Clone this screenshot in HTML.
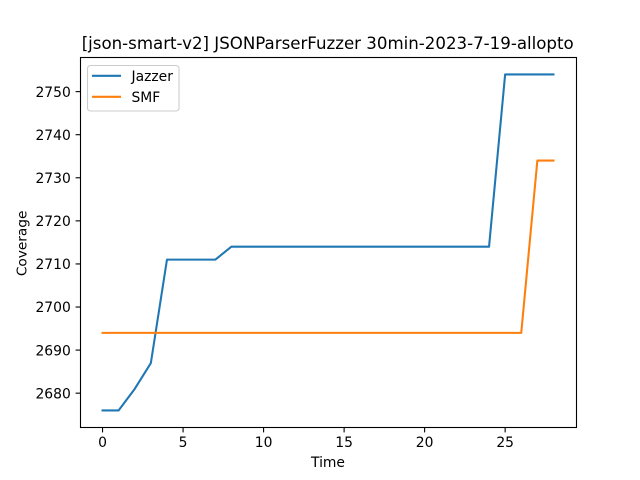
<!DOCTYPE html>
<html>
<head>
<meta charset="utf-8">
<style>
html,body{margin:0;padding:0;background:#fff;width:640px;height:480px;overflow:hidden}
svg{display:block}
text{font-family:"DejaVu Sans","Liberation Sans",sans-serif;fill:#000}
</style>
</head>
<body>
<svg id="chart" xmlns="http://www.w3.org/2000/svg" width="640" height="480" viewBox="0 0 640 480">
  <rect x="0" y="0" width="640" height="480" fill="#fff"/>
  <g id="ticks"></g>
  <g id="series"></g>
  <rect x="80.5" y="57.5" width="496" height="370" fill="none" stroke="#000" stroke-width="1.1"/>
  <text x="327.7" y="49" font-size="16.64" text-anchor="middle">[json-smart-v2] JSONParserFuzzer 30min-2023-7-19-allopto</text>
  <text x="328" y="467" font-size="13.89" text-anchor="middle">Time</text>
  <text transform="translate(26.5 243.4) rotate(-90)" font-size="13.7" text-anchor="middle">Coverage</text>
  <g>
    <rect x="87.5" y="65.5" width="91.5" height="45.5" rx="3" ry="3" fill="#fff" fill-opacity="0.8" stroke="#ccc" stroke-width="1.1"/>
    <line x1="93" x2="120" y1="75.8" y2="75.8" stroke="#1f77b4" stroke-width="2.08" stroke-linecap="square"/>
    <text x="131.5" y="81" font-size="13.89">Jazzer</text>
    <line x1="93" x2="120" y1="96.8" y2="96.8" stroke="#ff7f0e" stroke-width="2.08" stroke-linecap="square"/>
    <text x="131.5" y="102" font-size="13.89">SMF</text>
  </g>
</svg>
<script>
var times = [0,1,2,3,4,5,6,7,8,9,10,11,12,13,14,15,16,17,18,19,20,21,22,23,24,25,26,27,28];
var jazzerValues = [2676,2676,2681,2687,2711,2711,2711,2711,2714,2714,2714,2714,2714,2714,2714,2714,2714,2714,2714,2714,2714,2714,2714,2714,2714,2754,2754,2754,2754];
var smfValues = [2694,2694,2694,2694,2694,2694,2694,2694,2694,2694,2694,2694,2694,2694,2694,2694,2694,2694,2694,2694,2694,2694,2694,2694,2694,2694,2694,2734,2734];
var xTickLabels = [0,5,10,15,20,25];
var yTickLabels = [2680,2690,2700,2710,2720,2730,2740,2750];

var NS = 'http://www.w3.org/2000/svg';
var left = 80, right = 576, top_ = 57.6, bottom = 427.2;

function extent(arr) {
  return [Math.min.apply(null, arr), Math.max.apply(null, arr)];
}
var xExt = extent(times);
var yExt = extent(jazzerValues.concat(smfValues));
var xPad = (xExt[1] - xExt[0]) * 0.05;
var yPad = (yExt[1] - yExt[0]) * 0.05;

function xScale(v) {
  return left + (v - (xExt[0] - xPad)) / ((xExt[1] - xExt[0]) + 2 * xPad) * (right - left);
}
function yScale(v) {
  return bottom - (v - (yExt[0] - yPad)) / ((yExt[1] - yExt[0]) + 2 * yPad) * (bottom - top_);
}

var tickGroup = document.getElementById('ticks');
var seriesGroup = document.getElementById('series');

xTickLabels.forEach(function (t) {
  var x = xScale(t);
  var line = document.createElementNS(NS, 'line');
  
  
  line.setAttribute('x1', x);
  line.setAttribute('x2', x);
  line.setAttribute('y1', 427.5);
  line.setAttribute('y2', 432.4);
  line.setAttribute('stroke', '#000');
  line.setAttribute('stroke-width', 1.1);
  tickGroup.appendChild(line);
  var label = document.createElementNS(NS, 'text');
  
  
  label.setAttribute('x', x);
  label.setAttribute('y', 447);
  label.setAttribute('font-size', 13.89);
  label.setAttribute('text-anchor', 'middle');
  label.textContent = t;
  tickGroup.appendChild(label);
});

yTickLabels.forEach(function (t) {
  var y = yScale(t);
  var line = document.createElementNS(NS, 'line');
  
  
  line.setAttribute('x1', 75.6);
  line.setAttribute('x2', 80.5);
  line.setAttribute('y1', y);
  line.setAttribute('y2', y);
  line.setAttribute('stroke', '#000');
  line.setAttribute('stroke-width', 1.1);
  tickGroup.appendChild(line);
  var label = document.createElementNS(NS, 'text');
  
  
  label.setAttribute('x', 70.8);
  label.setAttribute('y', y + 5.2);
  label.setAttribute('font-size', 13.89);
  label.setAttribute('text-anchor', 'end');
  label.textContent = t;
  tickGroup.appendChild(label);
});

function pointsFor(values) {
  return values.map(function (v, i) {
    return xScale(times[i]).toFixed(2) + ',' + yScale(v).toFixed(2);
  }).join(' ');
}

var jazzerLine = document.createElementNS(NS, 'polyline');


jazzerLine.setAttribute('points', pointsFor(jazzerValues));
jazzerLine.setAttribute('fill', 'none');
jazzerLine.setAttribute('stroke', '#1f77b4');
jazzerLine.setAttribute('stroke-width', 2.08);
jazzerLine.setAttribute('stroke-linecap', 'square');
jazzerLine.setAttribute('stroke-linejoin', 'round');
seriesGroup.appendChild(jazzerLine);

var smfLine = document.createElementNS(NS, 'polyline');


smfLine.setAttribute('points', pointsFor(smfValues));
smfLine.setAttribute('fill', 'none');
smfLine.setAttribute('stroke', '#ff7f0e');
smfLine.setAttribute('stroke-width', 2.08);
smfLine.setAttribute('stroke-linecap', 'square');
smfLine.setAttribute('stroke-linejoin', 'round');
seriesGroup.appendChild(smfLine);
</script>
</body>
</html>
